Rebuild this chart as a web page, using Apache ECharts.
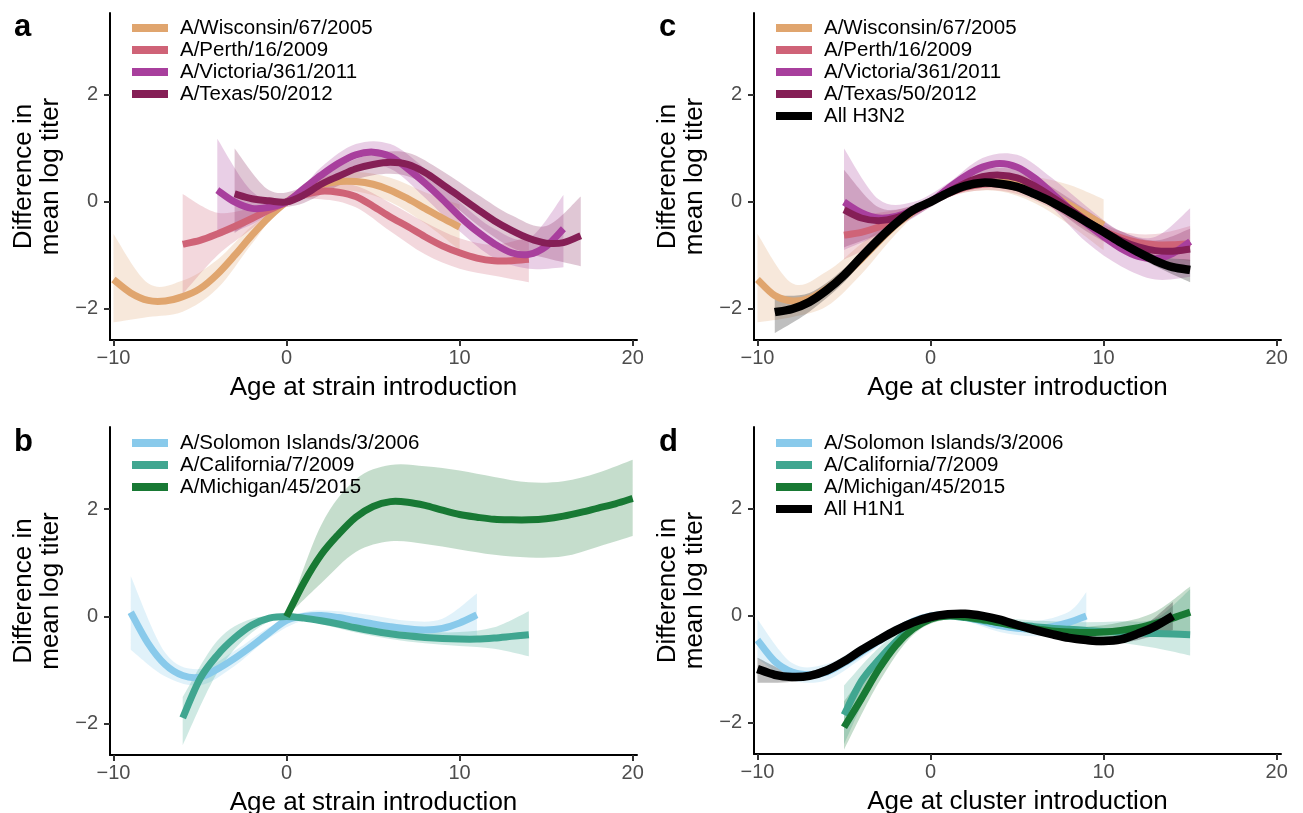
<!DOCTYPE html>
<html>
<head>
<meta charset="utf-8">
<title>Difference in mean log titer</title>
<script src="https://cdn.jsdelivr.net/npm/echarts@6.0.0/dist/echarts.min.js"></script>
<style>
  html, body { margin: 0; padding: 0; background: #fff; }
  #chart { width: 1303px; height: 813px; }
</style>
</head>
<body>
<div id="chart"></div>
<script>
// ---- axis ticks ----
const X_TICKS = [-10, 0, 10, 20];
const Y_TICKS = [-2, 0, 2];

// ---- legends ----
const LEG_A = ['A/Wisconsin/67/2005', 'A/Perth/16/2009', 'A/Victoria/361/2011', 'A/Texas/50/2012'];
const LEG_C = ['A/Wisconsin/67/2005', 'A/Perth/16/2009', 'A/Victoria/361/2011', 'A/Texas/50/2012', 'All H3N2'];
const LEG_B = ['A/Solomon Islands/3/2006', 'A/California/7/2009', 'A/Michigan/45/2015'];
const LEG_D = ['A/Solomon Islands/3/2006', 'A/California/7/2009', 'A/Michigan/45/2015', 'All H1N1'];

// ---- panel a (strain introduction, H3N2) ----
const WIS_A_X = [-10,-9,-8,-7,-6,-5,-4,-3,-2,-1,0,1,2,3,4,5,6,7,8,9,10];
const WIS_A_Y = [-1.45,-1.7,-1.84,-1.85,-1.77,-1.62,-1.35,-1.0,-0.62,-0.28,0,0.2,0.32,0.38,0.38,0.33,0.22,0.06,-0.12,-0.3,-0.47];
const WIS_A_BX = [-10,-8,-6,-4,-2,0,2,4,6,8,10];
const WIS_A_LO = [-2.25,-2.15,-2.05,-1.62,-0.78,0,0.2,0.2,0.0,-0.4,-0.9];
const WIS_A_HI = [-0.6,-1.52,-1.47,-1.08,-0.45,0,0.44,0.56,0.45,0.18,-0.05];

const PER_A_X = [-6,-5,-4,-3,-2,-1,0,1,2,3,4,5,6,7,8,9,10,11,12,13,14];
const PER_A_Y = [-0.79,-0.72,-0.6,-0.46,-0.31,-0.15,0,0.13,0.2,0.18,0.1,-0.08,-0.28,-0.46,-0.65,-0.82,-0.95,-1.05,-1.1,-1.1,-1.07];
const PER_A_BX = [-6,-4,-2,0,2,4,6,8,10,12,14];
const PER_A_LO = [-1.72,-1.0,-0.5,0,0.05,-0.1,-0.55,-0.98,-1.25,-1.38,-1.5];
const PER_A_HI = [0.15,-0.2,-0.12,0,0.35,0.3,-0.02,-0.38,-0.68,-0.8,-0.65];

const VIC_A_X = [-4,-3,-2,-1,0,1,2,3,4,5,6,7,8,9,10,11,12,13,14,15,16];
const VIC_A_Y = [0.22,0.0,-0.12,-0.1,0,0.25,0.5,0.72,0.88,0.93,0.85,0.62,0.35,0.05,-0.27,-0.55,-0.78,-0.95,-0.98,-0.83,-0.5];
const VIC_A_BX = [-4,-2,0,2,4,6,8,10,12,14,16];
const VIC_A_LO = [-0.65,-0.42,0,0.35,0.68,0.62,0.08,-0.55,-1.05,-1.25,-1.22];
const VIC_A_HI = [1.18,0.2,0,0.65,1.08,1.08,0.62,0.0,-0.5,-0.68,0.13];

const TEX_A_X = [-3,-2,-1,0,1,2,3,4,5,6,7,8,9,10,11,12,13,14,15,16,17];
const TEX_A_Y = [0.15,0.06,0.02,0,0.13,0.33,0.48,0.62,0.7,0.74,0.7,0.55,0.33,0.1,-0.13,-0.35,-0.53,-0.68,-0.77,-0.76,-0.63];
const TEX_A_BX = [-3,-1,1,3,5,7,9,11,13,15,17];
const TEX_A_LO = [-0.58,-0.18,-0.02,0.3,0.5,0.48,0.1,-0.42,-0.85,-1.05,-1.2];
const TEX_A_HI = [1.0,0.22,0.28,0.66,0.9,0.92,0.58,0.15,-0.25,-0.45,0.1];

// ---- panel c (cluster introduction, H3N2) ----
const WIS_C_X = [-10,-9,-8,-7,-6,-5,-4,-3,-2,-1,0,1,2,3,4,5,6,7,8,9,10];
const WIS_C_Y = [-1.45,-1.75,-1.85,-1.8,-1.62,-1.37,-1.07,-0.74,-0.43,-0.18,0,0.18,0.3,0.36,0.37,0.34,0.26,0.12,-0.05,-0.24,-0.43];
const WIS_C_BX = [-10,-8,-6,-4,-2,0,2,4,6,8,10];
const WIS_C_LO = [-2.25,-2.15,-1.95,-1.35,-0.6,0,0.18,0.2,-0.02,-0.42,-0.9];
const WIS_C_HI = [-0.6,-1.52,-1.3,-0.78,-0.27,0,0.42,0.52,0.47,0.32,0.05];

const C5_X = [-5,-4,-3,-2,-1,0,1,2,3,4,5,6,7,8,9,10,11,12,13,14,15];
const C5_BX = [-5,-3,-1,1,3,5,7,9,11,13,15];
const PER_C_Y = [-0.62,-0.57,-0.47,-0.33,-0.17,0,0.15,0.27,0.33,0.33,0.27,0.15,0.0,-0.18,-0.37,-0.54,-0.67,-0.76,-0.8,-0.8,-0.78];
const PER_C_LO = [-1.08,-0.75,-0.27,0.08,0.22,0.15,-0.12,-0.5,-0.85,-1.0,-1.1];
const PER_C_HI = [-0.25,-0.2,-0.07,0.22,0.45,0.4,0.12,-0.25,-0.55,-0.6,-0.45];

const VIC_C_Y = [0.0,-0.2,-0.3,-0.27,-0.15,0,0.25,0.48,0.65,0.72,0.65,0.45,0.17,-0.12,-0.4,-0.65,-0.87,-1.02,-1.06,-0.96,-0.74];
const VIC_C_LO = [-0.9,-0.62,-0.3,0.15,0.5,0.45,-0.1,-0.75,-1.2,-1.45,-1.4];
const VIC_C_HI = [1.0,0.05,0.0,0.35,0.82,0.88,0.45,-0.08,-0.55,-0.65,-0.12];

const TEX_C_Y = [-0.15,-0.3,-0.35,-0.3,-0.17,0,0.18,0.35,0.47,0.5,0.45,0.3,0.1,-0.12,-0.35,-0.55,-0.72,-0.84,-0.91,-0.92,-0.88];
const TEX_C_LO = [-0.85,-0.6,-0.28,0.08,0.35,0.3,-0.08,-0.55,-0.9,-1.12,-1.3];
const TEX_C_HI = [0.6,-0.1,-0.06,0.28,0.6,0.6,0.28,-0.15,-0.55,-0.72,-0.5];

const ALL3_C_X = [-9,-8,-7,-6,-5,-4,-3,-2,-1,0,1,2,3,4,5,6,7,8,9,10,11,12,13,14,15];
const ALL3_C_Y = [-2.06,-2.0,-1.87,-1.65,-1.37,-1.03,-0.7,-0.4,-0.15,0,0.17,0.3,0.36,0.34,0.28,0.15,0.0,-0.18,-0.37,-0.56,-0.76,-0.94,-1.1,-1.22,-1.27];
const ALL3_C_BX = [-9,-7,-5,-3,-1,1,3,5,7,9,11,13,15];
const ALL3_C_LO = [-2.45,-2.05,-1.5,-0.78,-0.2,0.12,0.3,0.2,-0.08,-0.45,-0.85,-1.2,-1.5];
const ALL3_C_HI = [-1.75,-1.7,-1.25,-0.62,-0.1,0.22,0.42,0.36,0.08,-0.3,-0.68,-1.0,-1.08];

// ---- panel b (strain introduction, H1N1) ----
const SOL_B_X = [-9,-8,-7,-6,-5,-4,-3,-2,-1,0,1,2,3,4,5,6,7,8,9,10,11];
const SOL_B_Y = [0.08,-0.5,-0.9,-1.1,-1.13,-0.98,-0.78,-0.55,-0.3,-0.07,0.0,0.02,-0.02,-0.08,-0.14,-0.19,-0.23,-0.25,-0.22,-0.12,0.03];
const SOL_B_BX = [-9,-7,-5,-3,-1,1,3,5,7,9,11];
const SOL_B_LO = [-0.62,-1.12,-1.28,-0.92,-0.4,-0.08,-0.15,-0.3,-0.38,-0.4,-0.35];
const SOL_B_HI = [0.75,-0.68,-0.98,-0.64,-0.2,0.08,0.1,0.02,-0.08,-0.04,0.43];

const CAL_B_X = [-6,-5,-4,-3,-2,-1,0,1,2,3,4,5,6,7,8,9,10,11,12,13,14];
const CAL_B_Y = [-1.89,-1.16,-0.72,-0.4,-0.16,-0.03,0.0,-0.03,-0.08,-0.14,-0.21,-0.27,-0.32,-0.36,-0.39,-0.41,-0.42,-0.42,-0.4,-0.37,-0.34];
const CAL_B_BX = [-6,-4,-2,0,2,4,6,8,10,12,14];
const CAL_B_LO = [-2.4,-1.05,-0.3,0,-0.14,-0.3,-0.42,-0.5,-0.55,-0.6,-0.74];
const CAL_B_HI = [-1.5,-0.45,-0.04,0,-0.02,-0.12,-0.22,-0.28,-0.29,-0.2,0.1];

const MICH_B_X = [0,1,2,3,4,5,6,7,8,9,10,11,12,13,14,15,16,17,18,19,20];
const MICH_B_Y = [0,0.63,1.15,1.53,1.85,2.05,2.14,2.13,2.07,1.98,1.9,1.85,1.81,1.8,1.8,1.82,1.87,1.94,2.02,2.1,2.2];
const MICH_B_BX = [0,2,4,6,8,10,12,14,16,18,20];
const MICH_B_LO = [0,0.62,1.2,1.4,1.35,1.25,1.15,1.1,1.12,1.3,1.5];
const MICH_B_HI = [0,1.7,2.55,2.82,2.8,2.72,2.6,2.5,2.52,2.68,2.92];

// ---- panel d (cluster introduction, H1N1) ----
const SOL_D_X = [-10,-9,-8,-7,-6,-5,-4,-3,-2,-1,0,1,2,3,4,5,6,7,8,9];
const SOL_D_Y = [-0.45,-0.85,-1.05,-1.1,-1.05,-0.88,-0.68,-0.47,-0.27,-0.1,0.0,0.02,-0.02,-0.1,-0.18,-0.23,-0.24,-0.2,-0.12,0.0];
const SOL_D_BX = [-10,-8,-6,-4,-2,0,2,4,6,8,9];
const SOL_D_LO = [-0.8,-1.2,-1.2,-0.8,-0.35,-0.06,-0.1,-0.3,-0.38,-0.3,-0.2];
const SOL_D_HI = [-0.06,-0.88,-0.9,-0.55,-0.18,0.05,0.06,-0.06,-0.1,0.08,0.44];

const CAL_D_Y = [-1.85,-1.22,-0.82,-0.48,-0.2,-0.03,0.0,-0.03,-0.08,-0.13,-0.17,-0.2,-0.23,-0.25,-0.27,-0.29,-0.3,-0.32,-0.33,-0.34,-0.35];
const CAL_D_LO = [-2.4,-1.05,-0.28,-0.05,-0.15,-0.28,-0.36,-0.42,-0.5,-0.6,-0.74];
const CAL_D_HI = [-1.3,-0.6,-0.12,0.05,-0.01,-0.06,-0.1,-0.12,-0.1,-0.05,0.5];

const MICH_D_Y = [-2.08,-1.55,-1.0,-0.55,-0.24,-0.06,0.0,-0.02,-0.07,-0.13,-0.19,-0.24,-0.28,-0.3,-0.31,-0.3,-0.27,-0.22,-0.14,-0.04,0.07];
const MICH_D_LO = [-2.5,-1.25,-0.35,-0.06,-0.15,-0.28,-0.38,-0.42,-0.42,-0.35,-0.35];
const MICH_D_HI = [-1.6,-0.75,-0.13,0.06,0.0,-0.1,-0.18,-0.2,-0.12,0.08,0.55];

const ALL1_D_X = [-10,-9,-8,-7,-6,-5,-4,-3,-2,-1,0,1,2,3,4,5,6,7,8,9,10,11,12,13,14];
const ALL1_D_Y = [-0.99,-1.1,-1.14,-1.12,-1.02,-0.85,-0.64,-0.45,-0.27,-0.12,-0.02,0.03,0.04,0.0,-0.07,-0.17,-0.26,-0.34,-0.41,-0.45,-0.47,-0.44,-0.33,-0.19,0.0];
const ALL1_D_BX = [-10,-8,-6,-4,-2,0,2,4,6,8,10,12,14];
const ALL1_D_LO = [-1.25,-1.23,-1.1,-0.71,-0.32,-0.07,-0.01,-0.13,-0.32,-0.48,-0.55,-0.45,-0.27];
const ALL1_D_HI = [-0.78,-1.05,-0.94,-0.57,-0.22,0.03,0.09,-0.01,-0.2,-0.34,-0.39,-0.25,0.26];

// ---- colours ----
const C_WIS = '#E0A56E';
const C_PER = '#CF6377';
const C_VIC = '#A83F9D';
const C_TEX = '#851F56';
const C_SOL = '#89CAEB';
const C_CAL = '#40A690';
const C_MICH = '#187934';
const C_ALL = '#000000';

const FONT = "'Liberation Sans', Arial, Helvetica, sans-serif";

// grid index: 0 = a, 1 = c, 2 = b, 3 = d
const CURVES = [
  [0, LEG_A[0], WIS_A_X, WIS_A_Y, WIS_A_BX, WIS_A_LO, WIS_A_HI, C_WIS],
  [0, LEG_A[1], PER_A_X, PER_A_Y, PER_A_BX, PER_A_LO, PER_A_HI, C_PER],
  [0, LEG_A[2], VIC_A_X, VIC_A_Y, VIC_A_BX, VIC_A_LO, VIC_A_HI, C_VIC],
  [0, LEG_A[3], TEX_A_X, TEX_A_Y, TEX_A_BX, TEX_A_LO, TEX_A_HI, C_TEX],
  [1, LEG_C[0], WIS_C_X, WIS_C_Y, WIS_C_BX, WIS_C_LO, WIS_C_HI, C_WIS],
  [1, LEG_C[1], C5_X, PER_C_Y, C5_BX, PER_C_LO, PER_C_HI, C_PER],
  [1, LEG_C[2], C5_X, VIC_C_Y, C5_BX, VIC_C_LO, VIC_C_HI, C_VIC],
  [1, LEG_C[3], C5_X, TEX_C_Y, C5_BX, TEX_C_LO, TEX_C_HI, C_TEX],
  [1, LEG_C[4], ALL3_C_X, ALL3_C_Y, ALL3_C_BX, ALL3_C_LO, ALL3_C_HI, C_ALL],
  [2, LEG_B[0], SOL_B_X, SOL_B_Y, SOL_B_BX, SOL_B_LO, SOL_B_HI, C_SOL],
  [2, LEG_B[1], CAL_B_X, CAL_B_Y, CAL_B_BX, CAL_B_LO, CAL_B_HI, C_CAL],
  [2, LEG_B[2], MICH_B_X, MICH_B_Y, MICH_B_BX, MICH_B_LO, MICH_B_HI, C_MICH],
  [3, LEG_D[0], SOL_D_X, SOL_D_Y, SOL_D_BX, SOL_D_LO, SOL_D_HI, C_SOL],
  [3, LEG_D[1], C5_X, CAL_D_Y, C5_BX, CAL_D_LO, CAL_D_HI, C_CAL],
  [3, LEG_D[2], C5_X, MICH_D_Y, C5_BX, MICH_D_LO, MICH_D_HI, C_MICH],
  [3, LEG_D[3], ALL1_D_X, ALL1_D_Y, ALL1_D_BX, ALL1_D_LO, ALL1_D_HI, C_ALL],
];

const GRIDS = [
  { left: 110, top: 13, width: 527, height: 327, outerBoundsMode: 'none' },
  { left: 754, top: 13, width: 527, height: 327, outerBoundsMode: 'none' },
  { left: 110, top: 427, width: 527, height: 328, outerBoundsMode: 'none' },
  { left: 754, top: 427, width: 527, height: 327, outerBoundsMode: 'none' },
];
const X_NAMES = ['Age at strain introduction', 'Age at cluster introduction',
                 'Age at strain introduction', 'Age at cluster introduction'];

const minus = (v) => String(v).replace('-', '\u2212');

function hexA(hex, a) {
  const n = parseInt(hex.slice(1), 16);
  return `rgba(${(n >> 16) & 255},${(n >> 8) & 255},${n & 255},${a})`;
}

// smooth path (Catmull-Rom -> cubic bezier) through pixel points
function crPath(pts, cmd) {
  let s = cmd + pts[0][0].toFixed(2) + ' ' + pts[0][1].toFixed(2);
  for (let i = 0; i < pts.length - 1; i++) {
    const p0 = pts[i - 1] || pts[i], p1 = pts[i], p2 = pts[i + 1], p3 = pts[i + 2] || pts[i + 1];
    const c1x = p1[0] + (p2[0] - p0[0]) / 6, c1y = p1[1] + (p2[1] - p0[1]) / 6;
    const c2x = p2[0] - (p3[0] - p1[0]) / 6, c2y = p2[1] - (p3[1] - p1[1]) / 6;
    s += `C${c1x.toFixed(2)} ${c1y.toFixed(2)} ${c2x.toFixed(2)} ${c2y.toFixed(2)} ${p2[0].toFixed(2)} ${p2[1].toFixed(2)}`;
  }
  return s;
}

const axisCommon = {
  axisLine: { onZero: false, lineStyle: { color: '#000', width: 2 } },
  splitLine: { show: false },
};

const xAxis = GRIDS.map((g, i) => ({
  ...axisCommon,
  type: 'value', gridIndex: i, min: -10.2, max: 20.25,
  axisTick: { customValues: X_TICKS, length: 6, lineStyle: { color: '#333', width: 2 } },
  axisLabel: { customValues: X_TICKS, formatter: minus, fontSize: 20, color: '#4d4d4d', margin: 8, fontFamily: FONT },
  name: X_NAMES[i], nameLocation: 'middle', nameGap: 35,
  nameTextStyle: { fontSize: 26, color: '#000', fontFamily: FONT },
}));

const yAxis = GRIDS.map((g, i) => ({
  ...axisCommon,
  type: 'value', gridIndex: i, min: -2.58, max: 3.53,
  axisTick: { customValues: Y_TICKS, length: 6, lineStyle: { color: '#333', width: 2 } },
  axisLabel: { customValues: Y_TICKS, formatter: minus, fontSize: 20, color: '#4d4d4d', margin: 12, fontFamily: FONT },
  name: 'Difference in\nmean log titer', nameLocation: 'middle', nameGap: 46,
  nameTextStyle: { fontSize: 26, color: '#000', lineHeight: 27, fontFamily: FONT },
}));

// confidence ribbons
const bandSeries = CURVES.map(([gi, name, xs, ys, bx, lo, hi, color]) => ({
  type: 'custom', name: name + ' band', xAxisIndex: gi, yAxisIndex: gi, z: 1, silent: true,
  data: bx.map((x, k) => [x, lo[k], hi[k]]),
  renderItem: (params, api) => {
    if (params.dataIndexInside !== 0) return null;
    const n = params.dataInsideLength;
    const top = [], bot = [];
    for (let k = 0; k < n; k++) {
      top.push(api.coord([api.value(0, k), api.value(2, k)]));
      bot.push(api.coord([api.value(0, k), api.value(1, k)]));
    }
    bot.reverse();
    return {
      type: 'path',
      shape: { pathData: crPath(top, 'M') + crPath(bot, 'L') + 'Z' },
      style: { fill: hexA(color, 0.25) },
    };
  },
}));

// fitted curves
const lineSeries = CURVES.map(([gi, name, xs, ys, bx, lo, hi, color]) => ({
  type: 'custom', name, xAxisIndex: gi, yAxisIndex: gi,
  z: color === C_ALL ? 4 : 3, silent: true,
  itemStyle: { color },
  data: xs.map((x, k) => [x, ys[k]]),
  renderItem: (params, api) => {
    if (params.dataIndexInside !== 0) return null;
    const n = params.dataInsideLength;
    const pts = [];
    for (let k = 0; k < n; k++) pts.push(api.coord([api.value(0, k), api.value(1, k)]));
    return {
      type: 'path',
      shape: { pathData: crPath(pts, 'M') },
      style: { fill: 'none', stroke: color, lineWidth: color === C_ALL ? 8.5 : 7, lineCap: 'butt', lineJoin: 'round' },
    };
  },
}));

const legendCommon = {
  orient: 'vertical', icon: 'rect', itemWidth: 36, itemHeight: 8, itemGap: 0,
  selectedMode: false,
  textStyle: { fontSize: 20.5, color: '#000', lineHeight: 22, fontFamily: FONT, padding: [0, 0, 0, 7] },
};

const letters = [['a', 9, 7], ['c', 654, 7], ['b', 9, 422], ['d', 654, 422]];

const option = {
  animation: false,
  backgroundColor: '#fff',
  textStyle: { fontFamily: FONT },
  title: letters.map(([t, l, tp]) => ({
    text: t, left: l, top: tp,
    textStyle: { fontSize: 31, fontWeight: 'bold', color: '#000', fontFamily: FONT },
  })),
  grid: GRIDS,
  xAxis, yAxis,
  legend: [
    { ...legendCommon, data: LEG_A, left: 127, top: 12 },
    { ...legendCommon, data: LEG_C, left: 771, top: 12 },
    { ...legendCommon, data: LEG_B, left: 127, top: 427 },
    { ...legendCommon, data: LEG_D, left: 771, top: 427 },
  ],
  series: [...bandSeries, ...lineSeries],
};

const chart = echarts.init(document.getElementById('chart'));
chart.setOption(option);
</script>
</body>
</html>
